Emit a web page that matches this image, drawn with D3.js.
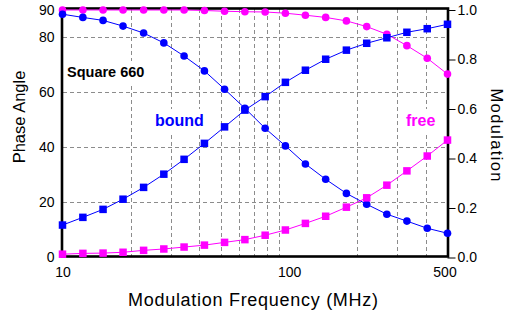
<!DOCTYPE html>
<html>
<head>
<meta charset="utf-8">
<script src="https://cdn.jsdelivr.net/npm/d3@7/dist/d3.min.js"></script>
<style>
  html, body { margin: 0; padding: 0; background: #fff; }
  svg { display: block; font-family: "Liberation Sans", Arial, sans-serif; }
</style>
</head>
<body>
<svg id="chart" width="523" height="331"></svg>
<script>
// Modulation frequencies (MHz)
const freq = [10, 12.3, 15.1, 18.5, 22.8, 28, 34.4, 42.3, 51.9, 63.8, 78.4, 96.3, 118, 145, 179, 220, 270, 331, 407, 500];
// Phase angle (degrees)
const boundPhase = [11.8, 14.6, 17.5, 21.2, 25.5, 30.3, 35.7, 41.5, 47.5, 53.6, 58.5, 63.7, 68.1, 72.1, 75.4, 77.9, 79.9, 81.9, 83.2, 84.8];
const freePhase = [1.2, 1.5, 1.6, 1.9, 2.6, 3.1, 3.8, 4.5, 5.5, 6.5, 8.1, 10.0, 12.4, 15.0, 18.3, 21.7, 26.3, 31.5, 36.9, 42.7];
// Modulation ratio
const boundMod = [0.983, 0.970, 0.958, 0.935, 0.907, 0.867, 0.814, 0.754, 0.680, 0.603, 0.522, 0.451, 0.378, 0.316, 0.259, 0.215, 0.175, 0.147, 0.118, 0.098];
const freeMod = [1.0, 1.0, 1.0, 1.0, 1.0, 1.0, 1.0, 0.998, 0.995, 0.993, 0.992, 0.987, 0.979, 0.970, 0.956, 0.933, 0.902, 0.856, 0.805, 0.741];

const phaseTicks = [0, 20, 40, 60, 80, 90];
const modTicks = [0, 0.2, 0.4, 0.6, 0.8, 1.0];
const freqTicks = [10, 100, 500];
const freqGrid = [20, 30, 40, 50, 60, 70, 80, 90, 200, 300, 400];
const phaseGrid = [20, 40, 60, 80];

const BLUE = "#0000ff", MAGENTA = "#ff00ff";

const svg = d3.select("#chart");
const x = d3.scaleLog().domain([10, 500]).range([62.5, 447.5]);
const yL = d3.scaleLinear().domain([0, 90]).range([257.5, 10]);
const yR = d3.scaleLinear().domain([0, 1]).range([257.5, 10]);

// grid
const grid = svg.append("g").attr("stroke", "#8c8c8c").attr("stroke-width", 1).attr("stroke-dasharray", "4,3");
grid.selectAll("line.v").data(freqGrid).join("line")
  .attr("x1", d => Math.round(x(d)) + 0.5).attr("x2", d => Math.round(x(d)) + 0.5)
  .attr("y1", 9).attr("y2", 256);
grid.selectAll("line.h").data(phaseGrid).join("line")
  .attr("y1", d => Math.round(yL(d)) - 0.5).attr("y2", d => Math.round(yL(d)) - 0.5)
  .attr("x1", 63).attr("x2", 447);

// series labels with white boxes
function label(txt, px, py, size, color) {
  const g = svg.append("g");
  const t = g.append("text").attr("x", px).attr("y", py)
    .attr("font-size", size).attr("font-weight", "bold").attr("fill", color).text(txt);
  const b = t.node().getBBox();
  g.insert("rect", "text").attr("x", b.x - 3).attr("y", b.y - 3)
    .attr("width", b.width + 6).attr("height", b.height + 6).attr("fill", "#fff");
}
label("Square 660", 67, 77, 14.5, "#000");
label("bound", 155, 126, 16, BLUE);
label("free", 406, 126, 16, MAGENTA);

// frame
svg.append("rect").attr("x", 62).attr("y", 8.5).attr("width", 386).attr("height", 248)
  .attr("fill", "none").attr("stroke", "#000").attr("stroke-width", 2.6);

// axes
const gl = svg.append("g").attr("transform", "translate(62.5,0)")
  .call(d3.axisLeft(yL).tickValues(phaseTicks).tickSize(0).tickPadding(8).tickFormat(d3.format("d")));
const gr = svg.append("g").attr("transform", "translate(447.5,0)")
  .call(d3.axisRight(yR).tickValues(modTicks).tickSize(8).tickPadding(2).tickFormat(d3.format(".1f")));
const gb = svg.append("g").attr("transform", "translate(0,257.5)")
  .call(d3.axisBottom(x).tickValues(freqTicks).tickSize(0).tickPadding(10).tickFormat(d3.format("d")));
[gl, gr, gb].forEach(g => {
  g.select(".domain").remove();
  g.selectAll("text").attr("font-size", 14).attr("font-family", "\"Liberation Sans\", Arial, sans-serif").attr("fill", "#000");
  g.selectAll("line").attr("stroke", "#000");
});
gb.selectAll(".tick text").filter(d => d === 500).attr("dx", -3);

// axis titles
svg.append("text").attr("x", 253).attr("y", 306).attr("text-anchor", "middle")
  .attr("font-size", 18).attr("textLength", 250).attr("lengthAdjust", "spacing")
  .text("Modulation Frequency (MHz)");
svg.append("text").attr("transform", "translate(25,117) rotate(-90)").attr("text-anchor", "middle")
  .attr("font-size", 16.5).text("Phase Angle");
svg.append("text").attr("transform", "translate(491,135) rotate(90)").attr("text-anchor", "middle")
  .attr("font-size", 16.5).attr("textLength", 93).attr("lengthAdjust", "spacing").text("Modulation");

// series
const series = [
  { vals: freeMod, y: yR, color: MAGENTA, shape: "circle" },
  { vals: boundMod, y: yR, color: BLUE, shape: "circle" },
  { vals: freePhase, y: yL, color: MAGENTA, shape: "square" },
  { vals: boundPhase, y: yL, color: BLUE, shape: "square" }
];
series.forEach(s => {
  const pts = freq.map((f, i) => [x(f), s.y(s.vals[i])]);
  svg.append("path").attr("d", d3.line()(pts)).attr("fill", "none")
    .attr("stroke", s.color).attr("stroke-width", 1);
  if (s.shape === "circle") {
    svg.append("g").selectAll("circle").data(pts).join("circle")
      .attr("cx", d => d[0]).attr("cy", d => d[1]).attr("r", 3.8).attr("fill", s.color);
  } else {
    svg.append("g").selectAll("rect").data(pts).join("rect")
      .attr("x", d => d[0] - 3.75).attr("y", d => d[1] - 3.75)
      .attr("width", 7.5).attr("height", 7.5).attr("fill", s.color);
  }
});
</script>
</body>
</html>
